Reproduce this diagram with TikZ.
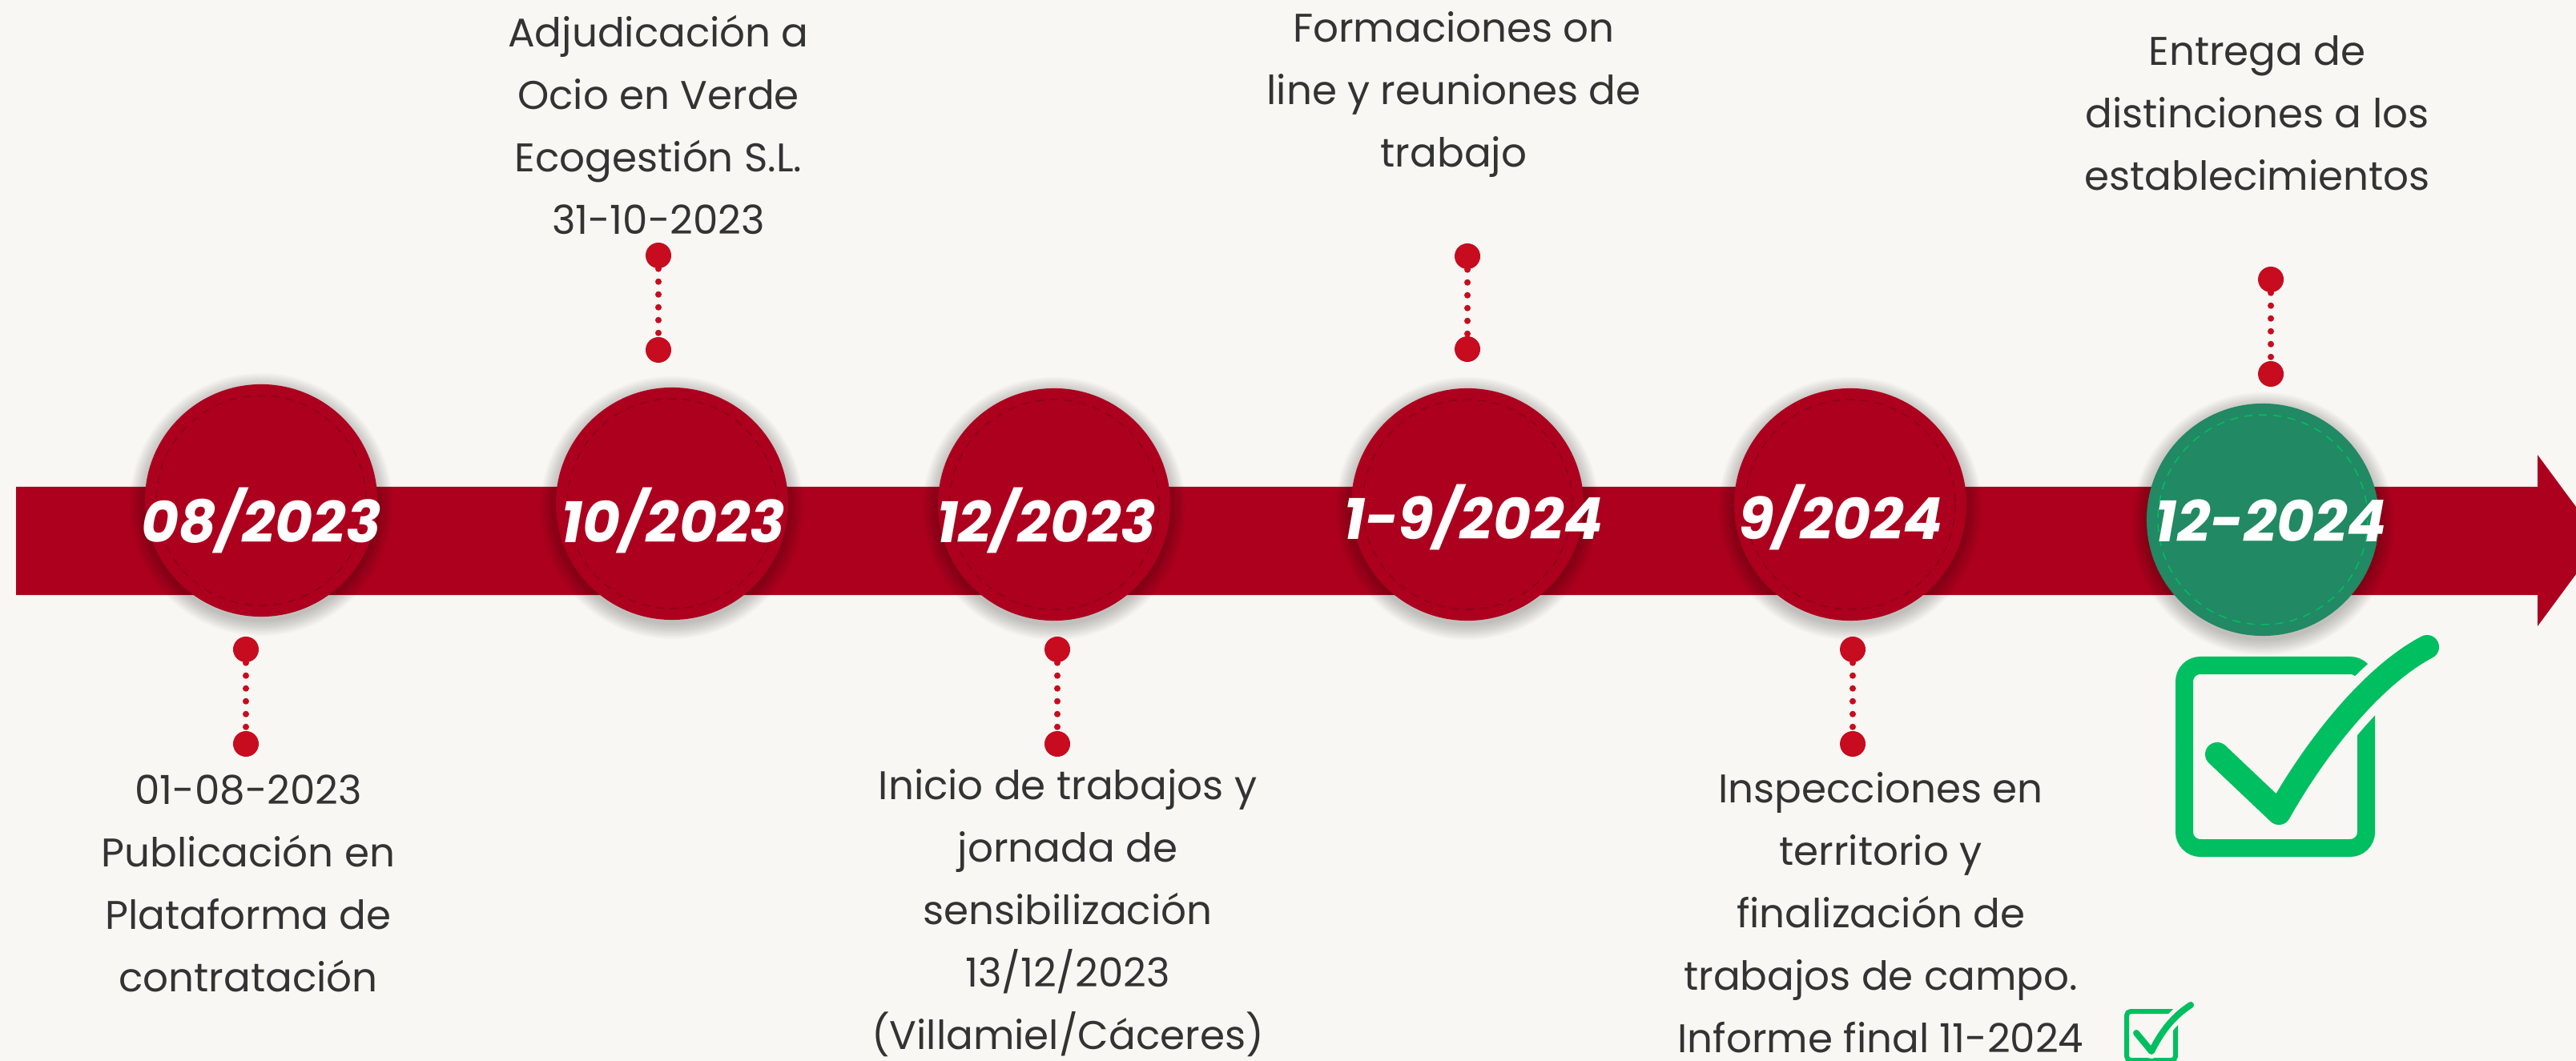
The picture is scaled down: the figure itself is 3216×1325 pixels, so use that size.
\documentclass[tikz,border=0pt]{standalone}
\usepackage{fontspec}
\setmainfont{Poppins}
\definecolor{fondo}{HTML}{F8F7F3}
\definecolor{rojo}{HTML}{AC001E}
\definecolor{rojopunto}{HTML}{C70C20}
\definecolor{verde}{HTML}{218964}
\definecolor{verdecheck}{HTML}{00BF60}
\definecolor{texto}{HTML}{333333}
\tikzset{
	hito/.style={circle, fill=rojo, minimum size=2.9cm, inner sep=0pt},
	anillo/.style={draw=rojo!80!black, line width=0.015cm, dash pattern=on 0.1cm off 0.08cm},
	fecha/.style={inner sep=0pt, text=white, font=\fontsize{20.5}{20.5}\selectfont\bfseries\itshape},
	punto/.style={circle, fill=rojopunto, minimum size=0.32cm, inner sep=0pt},
	puntos/.style={rojopunto, line width=0.08cm, line cap=round, dash pattern=on 0pt off 0.16cm},
	nota/.style={align=center, text=texto, inner sep=0pt, font=\fontsize{14.2}{22.2}\selectfont},
}
\begin{document}
\begin{tikzpicture}[x=0.01cm, y=-0.01cm]
		\useasboundingbox (0,0) rectangle (3216,1325);
		\clip (0,0) rectangle (3216,1325);
		\fill[fondo] (0,0) rectangle (3216,1325);
		% flecha
		\fill[rojo] (20,608) -- (3168,608) -- (3168,568) -- (3247,675) -- (3168,782) -- (3168,743) -- (20,743) -- cycle;
		% sombras
		\foreach \x/\y in {326/625, 839/629, 1316/630, 1832/630, 2310/630, 2825/649}
			\foreach \i in {1,...,10}
				\fill[black, opacity=0.025] (\x,\y+5) circle [radius=144+2*\i];
		% hitos
		\node[hito] (h1) at (326,625) {};
		\node[hito] (h2) at (839,629) {};
		\node[hito] (h3) at (1316,630) {};
		\node[hito] (h4) at (1832,630) {};
		\node[hito] (h5) at (2310,630) {};
		\node[hito, fill=verde] (h6) at (2825,649) {};
		\foreach \n in {h1,h2,h3,h4,h5}
			\draw[anillo] (\n) circle [radius=131];
		\draw[anillo, draw=verdecheck] (h6) circle [radius=131];
		\node[fecha] (f1) at (326,650) {08/2023};
		\node[fecha] (f2) at (840,650) {10/2023};
		\node[fecha] (f3) at (1306,650) {12/2023};
		\node[fecha] (f4) at (1839,646) {1-9/2024};
		\node[fecha] (f5) at (2298,646) {9/2024};
		\node[fecha] (f6) at (2835,650) {12-2024};
		% conectores
		\node[punto] (a2) at (822,319) {};
		\node[punto] (b2) at (822,437) {};
		\node[punto] (a4) at (1832,320) {};
		\node[punto] (b4) at (1832,436) {};
		\node[punto] (a6) at (2835,349) {};
		\node[punto] (b6) at (2835,467) {};
		\node[punto] (a1) at (307,811) {};
		\node[punto] (b1) at (307,929) {};
		\node[punto] (a3) at (1320,811) {};
		\node[punto] (b3) at (1320,929) {};
		\node[punto] (a5) at (2313,811) {};
		\node[punto] (b5) at (2313,929) {};
		\foreach \n in {1,...,6}
			\draw[puntos] (a\n) -- (b\n);
		% textos
		\node[nota] (n2) at (822,156) {Adjudicación a\\Ocio en Verde\\Ecogestión S.L.\\31-10-2023};
		\node[nota] (n4) at (1815,118) {Formaciones on\\line y reuniones de\\trabajo};
		\node[nota] (n6) at (2818,141) {Entrega de\\distinciones a los\\establecimientos};
		\node[nota] (n1) at (310,1103) {01-08-2023\\Publicación en\\Plataforma de\\contratación};
		\node[nota] (n3) at (1333,1140) {Inicio de trabajos y\\jornada de\\sensibilización\\13/12/2023\\(Villamiel/Cáceres)};
		\node[nota] (n5) at (2348,1140) {Inspecciones en\\territorio y\\finalización de\\trabajos de campo.\\Informe final 11-2024};
		% casillas
		\draw[verdecheck, line width=0.22cm, rounded corners=0.2cm] (2727,831) rectangle (2954,1059);
		\foreach \c/\w in {fondo/0.52cm, verdecheck/0.3cm}
			\draw[\c, line width=\w, line cap=round, line join=round] (2768,942) -- (2845,1015) .. controls (2890,935) and (2960,845) .. (3030,808);
		\draw[verdecheck, line width=0.06cm, rounded corners=0.05cm] (2655,1263) rectangle (2716,1324);
		\foreach \c/\w in {fondo/0.18cm, verdecheck/0.08cm}
			\draw[\c, line width=\w, line cap=round, line join=round] (2667,1290) -- (2686,1313) .. controls (2700,1285) and (2715,1268) .. (2735,1255);
\end{tikzpicture}
\end{document}
